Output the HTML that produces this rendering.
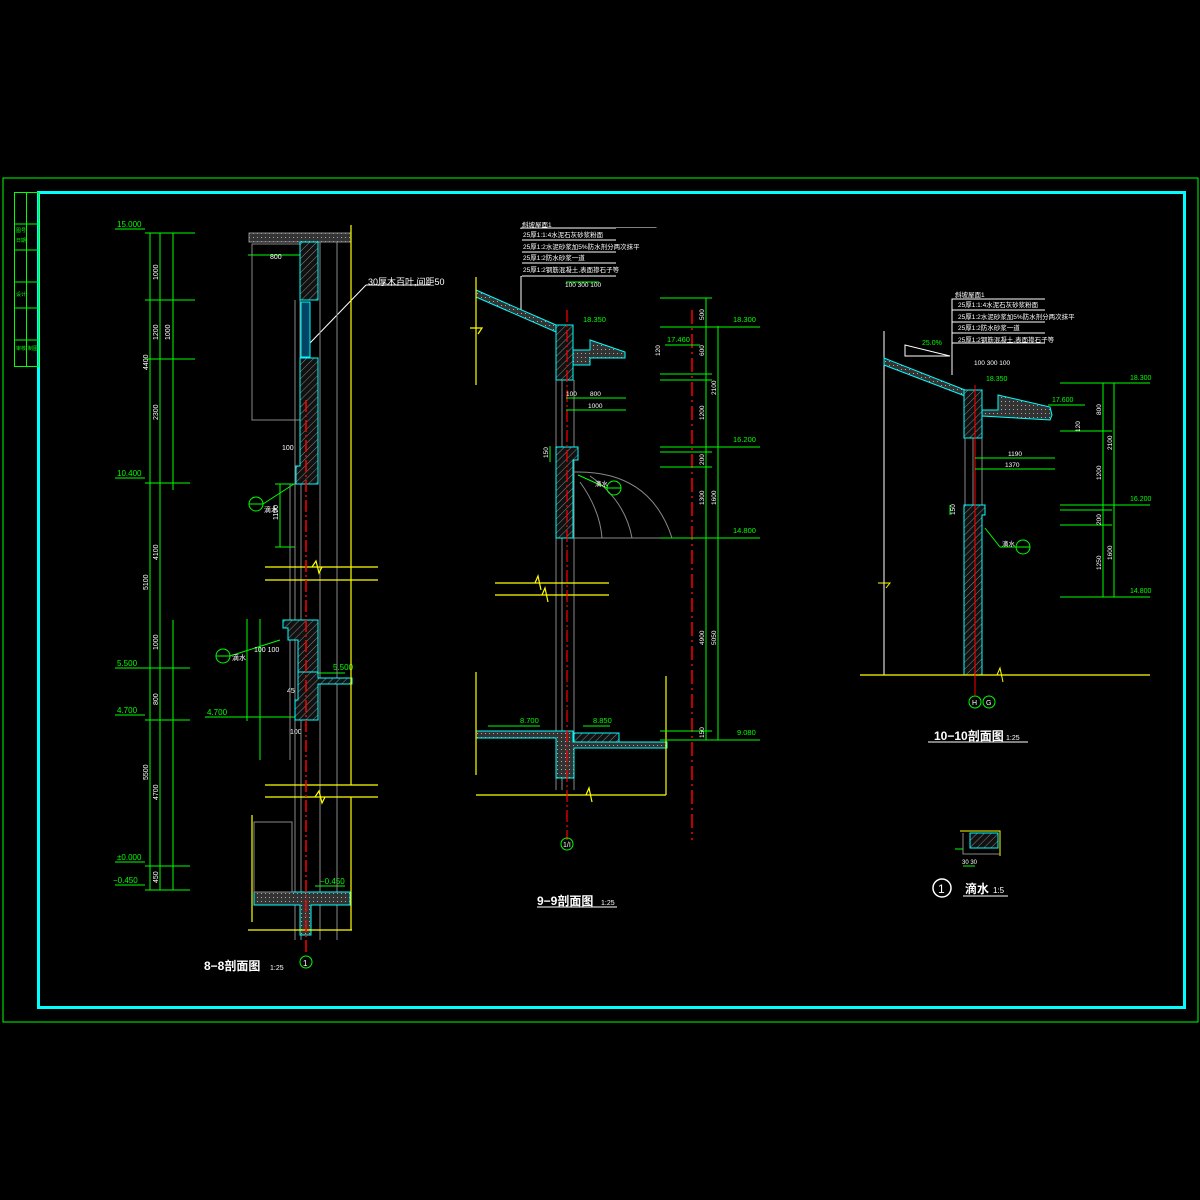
<!DOCTYPE html>
<html><head><meta charset="utf-8"><style>
html,body{margin:0;padding:0;background:#000;}
svg{display:block}
text{font-family:"Liberation Sans","Noto Sans CJK SC",sans-serif;}
</style></head><body>
<svg width="1200" height="1200" viewBox="0 0 1200 1200" xmlns="http://www.w3.org/2000/svg">
<defs>
<pattern id="h" width="5" height="5" patternUnits="userSpaceOnUse" patternTransform="rotate(45)">
<rect width="5" height="5" fill="#111"/><line x1="0" y1="0" x2="0" y2="5" stroke="#888" stroke-width="1"/></pattern>
<pattern id="c" width="4" height="4" patternUnits="userSpaceOnUse">
<rect width="4" height="4" fill="#333"/><rect x="1" y="1" width="1" height="1" fill="#aaa"/></pattern>
</defs>
<rect width="1200" height="1200" fill="#000"/>
<!-- frames -->
<rect x="3" y="178" width="1195" height="844" fill="none" stroke="#0f0" stroke-width="1"/>
<rect x="38.5" y="192.5" width="1146" height="815" fill="none" stroke="#0ff" stroke-width="3"/>
<g stroke="#0f0" stroke-width="1" fill="none">
<rect x="14.5" y="192.5" width="24" height="174"/>
<line x1="26.5" y1="192" x2="26.5" y2="366"/>
<line x1="14" y1="224" x2="38" y2="224"/><line x1="14" y1="250" x2="38" y2="250"/>
<line x1="14" y1="282" x2="38" y2="282"/><line x1="14" y1="308" x2="38" y2="308"/>
<line x1="14" y1="340" x2="38" y2="340"/>
</g>
<g fill="#0f0" font-size="5"><text x="16" y="232">图号</text><text x="16" y="242">日期</text><text x="16" y="296">设计</text><text x="16" y="350">审核</text><text x="28" y="350">制图</text></g>

<!-- ===== 8-8 ===== -->
<g stroke="#0f0" stroke-width="1" fill="none">
<line x1="150" y1="233" x2="150" y2="890"/><line x1="160" y1="233" x2="160" y2="890"/>
<line x1="173" y1="233" x2="173" y2="490"/>
<line x1="173" y1="620" x2="173" y2="890"/>
<line x1="115" y1="229" x2="145" y2="229"/><line x1="115" y1="478" x2="145" y2="478"/>
<line x1="115" y1="668" x2="145" y2="668"/><line x1="115" y1="715" x2="145" y2="715"/>
<line x1="115" y1="862" x2="145" y2="862"/><line x1="115" y1="885" x2="145" y2="885"/>
<line x1="145" y1="233" x2="195" y2="233"/><line x1="145" y1="300" x2="195" y2="300"/>
<line x1="145" y1="359" x2="195" y2="359"/><line x1="145" y1="483" x2="190" y2="483"/>
<line x1="145" y1="668" x2="190" y2="668"/><line x1="145" y1="720" x2="190" y2="720"/>
<line x1="145" y1="866" x2="190" y2="866"/><line x1="145" y1="890" x2="190" y2="890"/>
<line x1="280" y1="484" x2="280" y2="547"/><line x1="275" y1="484" x2="295" y2="484"/><line x1="275" y1="547" x2="295" y2="547"/>
<line x1="248" y1="255" x2="300" y2="255"/>
<line x1="247" y1="619" x2="247" y2="721"/><line x1="260" y1="619" x2="260" y2="760"/>
<line x1="205" y1="717" x2="300" y2="717"/>
<line x1="318" y1="673" x2="345" y2="673"/>
<line x1="315" y1="886" x2="345" y2="886"/>
<circle cx="256" cy="504" r="7"/><line x1="249" y1="504" x2="263" y2="504"/>
<circle cx="223" cy="656" r="7"/><line x1="216" y1="656" x2="230" y2="656"/>
<line x1="263" y1="504" x2="294" y2="484"/><line x1="230" y1="656" x2="280" y2="640"/>
</g>
<g fill="#0f0" font-size="8"><text x="117" y="227">15.000</text><text x="117" y="476">10.400</text><text x="117" y="666">5.500</text><text x="117" y="713">4.700</text><text x="117" y="860">±0.000</text><text x="113" y="883">−0.450</text><text x="207" y="715">4.700</text><text x="333" y="670">5.500</text><text x="320" y="884">−0.450</text></g>
<g fill="#fff" font-size="7">
<text transform="translate(148,370) rotate(-90)">4400</text><text transform="translate(158,280) rotate(-90)">1000</text>
<text transform="translate(158,340) rotate(-90)">1200</text><text transform="translate(158,420) rotate(-90)">2300</text>
<text transform="translate(148,590) rotate(-90)">5100</text><text transform="translate(158,560) rotate(-90)">4100</text>
<text transform="translate(158,650) rotate(-90)">1000</text><text transform="translate(158,705) rotate(-90)">800</text>
<text transform="translate(148,780) rotate(-90)">5500</text><text transform="translate(158,800) rotate(-90)">4700</text>
<text transform="translate(158,883) rotate(-90)">450</text><text transform="translate(170,340) rotate(-90)">1000</text>
<text x="270" y="259">800</text><text x="282" y="450">100</text><text transform="translate(278,520) rotate(-90)">1100</text>
<text x="264" y="512">滴水</text><text x="232" y="660">滴水</text><text x="254" y="652">100 100</text>
<text x="287" y="693">45</text><text x="290" y="734">100</text>
</g>
<text x="368" y="285" fill="#fff" font-size="9">30厚木百叶,间距50</text>
<line x1="310" y1="343" x2="366" y2="285" stroke="#fff" stroke-width="1"/><line x1="366" y1="285" x2="430" y2="285" stroke="#fff"/>
<!-- structure 8-8 -->
<g stroke="#888" stroke-width="1" fill="none">
<rect x="249" y="233" width="102" height="9" fill="url(#c)"/>
<rect x="252" y="244" width="48" height="176"/>
<line x1="320" y1="242" x2="320" y2="940"/><line x1="337" y1="242" x2="337" y2="940"/>
<line x1="295" y1="300" x2="295" y2="940"/><line x1="290" y1="484" x2="290" y2="760"/>
<line x1="301" y1="484" x2="301" y2="940"/>
</g>
<path d="M300 242 L318 242 L318 300 L300 300 Z" fill="url(#h)" stroke="#0ff"/>
<rect x="301" y="302" width="9" height="55" fill="#046" stroke="#0ff"/>
<path d="M300 358 L318 358 L318 484 L296 484 L296 466 L300 466 Z" fill="url(#h)" stroke="#0ff"/>
<path d="M283 620 L318 620 L318 672 L298 672 L298 640 L288 640 L288 628 L283 628 Z" fill="url(#h)" stroke="#0ff"/>
<path d="M298 672 L318 672 L318 678 L352 678 L352 684 L318 684 L318 720 L295 720 L295 700 L298 700 Z" fill="url(#h)" stroke="#0ff"/>
<path d="M254 892 L350 892 L350 905 L311 905 L311 935 L300 935 L300 905 L254 905 Z" fill="url(#c)" stroke="#0ff"/>
<g stroke="#888" fill="none"><rect x="254" y="822" width="38" height="70"/></g>
<g stroke="#ff0" stroke-width="1.2" fill="none">
<line x1="351" y1="225" x2="351" y2="785"/><line x1="351" y1="797" x2="351" y2="930"/>
<line x1="265" y1="567" x2="378" y2="567"/><line x1="265" y1="580" x2="378" y2="580"/>
<line x1="265" y1="785" x2="378" y2="785"/><line x1="265" y1="797" x2="378" y2="797"/>
<line x1="252" y1="815" x2="252" y2="922"/><line x1="248" y1="930" x2="352" y2="930"/>
<path d="M312 567 l4 -6 l3 12 l3 -6"/><path d="M315 797 l4 -6 l3 12 l3 -6"/>
</g>
<line x1="306" y1="400" x2="306" y2="955" stroke="#f00" stroke-width="1.5" stroke-dasharray="12,3,2,3"/>
<circle cx="306" cy="962" r="6" fill="none" stroke="#0f0"/><text x="303" y="966" fill="#fff" font-size="8">1</text>
<text x="204" y="970" fill="#fff" font-size="12" font-weight="bold">8−8剖面图</text><text x="270" y="970" fill="#fff" font-size="7">1:25</text>

<!-- ===== 9-9 ===== -->
<g stroke="#fff" stroke-width="1" fill="none">
<rect x="521" y="228" width="135" height="48"/>
<line x1="521" y1="240" x2="616" y2="240"/><line x1="521" y1="252" x2="616" y2="252"/><line x1="521" y1="263" x2="616" y2="263"/>
<line x1="521" y1="276" x2="521" y2="310"/>
</g>
<rect x="520" y="229" width="2" height="47" fill="#000"/><rect x="616" y="228" width="45" height="49" fill="#000"/>
<g fill="#fff" font-size="6.5"><text x="522" y="227">斜坡屋面1</text><text x="523" y="237">25厚1:1:4水泥石灰砂浆粉面</text><text x="523" y="249">25厚1:2水泥砂浆加5%防水剂分两次抹平</text><text x="523" y="260">25厚1:2防水砂浆一道</text><text x="523" y="272">25厚1:2钢筋混凝土,表面掺石子等</text></g>
<path d="M476 290 L556 325 L556 332 L476 297 Z" fill="url(#c)" stroke="#0ff"/>
<path d="M556 325 L573 325 L573 380 L556 380 Z" fill="url(#h)" stroke="#0ff"/>
<path d="M573 350 L590 350 L590 340 L625 352 L625 358 L600 358 L590 358 L590 365 L573 365 Z" fill="url(#c)" stroke="#0ff"/>
<g stroke="#888" fill="none">
<line x1="556" y1="380" x2="556" y2="790"/><line x1="562" y1="380" x2="562" y2="790"/><line x1="574" y1="380" x2="574" y2="790"/>
<line x1="574" y1="538" x2="700" y2="538"/>
<path d="M574 472 Q650 470 672 538"/><path d="M590 476 Q625 500 632 538"/><path d="M580 482 Q600 510 602 538"/>
</g>
<path d="M556 447 L578 447 L578 460 L573 460 L573 538 L556 538 Z" fill="url(#h)" stroke="#0ff"/>
<path d="M476 731 L573 731 L573 742 L667 742 L667 748 L574 748 L574 778 L556 778 L556 738 L476 738 Z" fill="url(#c)" stroke="#0ff"/>
<path d="M574 733 L619 733 L619 742 L574 742 Z" fill="url(#h)" stroke="#0ff"/>
<g stroke="#ff0" stroke-width="1.2" fill="none">
<line x1="476" y1="277" x2="476" y2="385"/><path d="M470 328 l12 0 l-4 6"/>
<line x1="495" y1="583" x2="609" y2="583"/><line x1="495" y1="595" x2="609" y2="595"/>
<path d="M535 583 l3 -7 l3 14"/><path d="M542 595 l3 -7 l3 14"/>
<line x1="476" y1="672" x2="476" y2="775"/><line x1="666" y1="676" x2="666" y2="795"/>
<line x1="476" y1="795" x2="666" y2="795"/><path d="M586 795 l3 -7 l3 14"/>
</g>
<line x1="567" y1="310" x2="567" y2="840" stroke="#f00" stroke-width="1.2" stroke-dasharray="12,3,2,3"/>
<line x1="692" y1="310" x2="692" y2="840" stroke="#f00" stroke-width="1.5" stroke-dasharray="14,4,2,4"/>
<g stroke="#0f0" fill="none">
<line x1="706" y1="298" x2="706" y2="740"/><line x1="718" y1="326" x2="718" y2="740"/>
<line x1="660" y1="298" x2="712" y2="298"/><line x1="660" y1="327" x2="760" y2="327"/>
<line x1="660" y1="374" x2="712" y2="374"/><line x1="660" y1="380" x2="712" y2="380"/>
<line x1="660" y1="447" x2="760" y2="447"/><line x1="660" y1="452" x2="712" y2="452"/>
<line x1="660" y1="467" x2="712" y2="467"/><line x1="660" y1="538" x2="760" y2="538"/>
<line x1="660" y1="740" x2="760" y2="740"/><line x1="660" y1="731" x2="712" y2="731"/>
<line x1="665" y1="345" x2="700" y2="345"/>
<line x1="566" y1="398" x2="626" y2="398"/><line x1="566" y1="410" x2="626" y2="410"/>
<line x1="566" y1="282" x2="599" y2="282"/>
<circle cx="614" cy="488" r="7"/><line x1="607" y1="488" x2="621" y2="488"/><line x1="578" y1="475" x2="607" y2="488"/>
<line x1="488" y1="726" x2="540" y2="726"/><line x1="583" y1="726" x2="610" y2="726"/>
<line x1="550" y1="446" x2="550" y2="462"/>
</g>
<g fill="#0f0" font-size="7.5"><text x="733" y="322">18.300</text><text x="733" y="442">16.200</text><text x="733" y="533">14.800</text><text x="737" y="735">9.080</text><text x="667" y="342">17.460</text><text x="583" y="322">18.350</text><text x="520" y="723">8.700</text><text x="593" y="723">8.850</text></g>
<g fill="#fff" font-size="6.5">
<text transform="translate(704,320) rotate(-90)">500</text><text transform="translate(704,356) rotate(-90)">600</text>
<text transform="translate(716,395) rotate(-90)">2100</text><text transform="translate(704,420) rotate(-90)">1200</text>
<text transform="translate(716,505) rotate(-90)">1600</text><text transform="translate(704,505) rotate(-90)">1300</text>
<text transform="translate(704,645) rotate(-90)">4900</text><text transform="translate(716,645) rotate(-90)">5050</text>
<text transform="translate(704,465) rotate(-90)">200</text><text transform="translate(704,738) rotate(-90)">150</text>
<text transform="translate(660,356) rotate(-90)">120</text><text transform="translate(548,458) rotate(-90)">150</text>
<text x="565" y="287">100 300 100</text><text x="590" y="396">800</text><text x="588" y="408">1000</text><text x="566" y="396">100</text>
<text x="595" y="486">滴水</text>
</g>
<circle cx="567" cy="844" r="6" fill="none" stroke="#0f0"/><text x="563" y="847" fill="#fff" font-size="7">1/I</text>
<text x="537" y="905" fill="#fff" font-size="12" font-weight="bold">9−9剖面图</text><text x="601" y="905" fill="#fff" font-size="7">1:25</text>
<line x1="537" y1="907" x2="617" y2="907" stroke="#fff"/>

<!-- ===== 10-10 ===== -->
<g stroke="#fff" stroke-width="1" fill="none">
<rect x="952" y="299" width="100" height="44"/>
<line x1="952" y1="310" x2="1045" y2="310"/><line x1="952" y1="322" x2="1045" y2="322"/><line x1="952" y1="333" x2="1045" y2="333"/>
<line x1="952" y1="343" x2="952" y2="375"/>
<line x1="884" y1="331" x2="884" y2="675"/>
<path d="M905 345 L905 356 L950 356 Z"/>
</g>
<rect x="1045" y="298" width="20" height="46" fill="#000"/>
<g fill="#fff" font-size="6.5"><text x="955" y="297">斜坡屋面1</text><text x="958" y="307">25厚1:1:4水泥石灰砂浆粉面</text><text x="958" y="319">25厚1:2水泥砂浆加5%防水剂分两次抹平</text><text x="958" y="330">25厚1:2防水砂浆一道</text><text x="958" y="342">25厚1:2钢筋混凝土,表面掺石子等</text></g>
<text x="922" y="345" fill="#0f0" font-size="7">25.0%</text>
<path d="M884 358 L965 390 L965 396 L884 365 Z" fill="url(#c)" stroke="#0ff"/>
<path d="M964 390 L982 390 L982 438 L964 438 Z" fill="url(#h)" stroke="#0ff"/>
<path d="M982 410 L998 410 L998 395 L1050 407 L1052 415 L1050 420 L982 416 Z" fill="url(#c)" stroke="#0ff"/>
<g stroke="#888" fill="none"><line x1="965" y1="438" x2="965" y2="505"/><line x1="973" y1="438" x2="973" y2="505"/><line x1="982" y1="438" x2="982" y2="505"/></g>
<path d="M964 505 L985 505 L985 515 L982 515 L982 675 L964 675 Z" fill="url(#h)" stroke="#0ff"/>
<line x1="860" y1="675" x2="1150" y2="675" stroke="#ff0" stroke-width="1.2"/>
<path d="M997 675 l3 -7 l3 14" stroke="#ff0" fill="none"/><path d="M878 583 l12 0 l-4 5" stroke="#ff0" fill="none"/>
<line x1="975" y1="385" x2="975" y2="695" stroke="#f00" stroke-width="1"/>
<circle cx="975" cy="702" r="6" fill="none" stroke="#0f0"/><circle cx="989" cy="702" r="6" fill="none" stroke="#0f0"/>
<text x="972" y="705" fill="#fff" font-size="7">H</text><text x="986" y="705" fill="#fff" font-size="7">G</text>
<g stroke="#0f0" fill="none">
<line x1="1103" y1="383" x2="1103" y2="597"/><line x1="1114" y1="383" x2="1114" y2="597"/>
<line x1="1060" y1="383" x2="1150" y2="383"/><line x1="1060" y1="431" x2="1112" y2="431"/>
<line x1="1060" y1="505" x2="1150" y2="505"/><line x1="1060" y1="510" x2="1112" y2="510"/>
<line x1="1060" y1="525" x2="1112" y2="525"/><line x1="1060" y1="597" x2="1150" y2="597"/>
<line x1="975" y1="458" x2="1055" y2="458"/><line x1="975" y1="469" x2="1055" y2="469"/>
<line x1="1048" y1="405" x2="1085" y2="405"/>
<circle cx="1023" cy="547" r="7"/><line x1="1016" y1="547" x2="1030" y2="547"/><line x1="985" y1="528" x2="1000" y2="547"/><line x1="1000" y1="547" x2="1016" y2="547"/>
<line x1="950" y1="505" x2="950" y2="515"/>
</g>
<g fill="#0f0" font-size="7"><text x="1130" y="380">18.300</text><text x="1130" y="501">16.200</text><text x="1130" y="593">14.800</text><text x="1052" y="402">17.600</text><text x="986" y="381">18.350</text></g>
<g fill="#fff" font-size="6.5">
<text transform="translate(1101,415) rotate(-90)">800</text><text transform="translate(1112,450) rotate(-90)">2100</text>
<text transform="translate(1101,480) rotate(-90)">1200</text><text transform="translate(1112,560) rotate(-90)">1600</text>
<text transform="translate(1101,570) rotate(-90)">1250</text><text transform="translate(1101,525) rotate(-90)">200</text>
<text transform="translate(1080,432) rotate(-90)">120</text><text transform="translate(955,515) rotate(-90)">150</text>
<text x="974" y="365">100 300 100</text><text x="1008" y="456">1190</text><text x="1005" y="467">1370</text><text x="1002" y="546">滴水</text>
</g>
<text x="934" y="740" fill="#fff" font-size="12" font-weight="bold">10−10剖面图</text><text x="1006" y="740" fill="#fff" font-size="7">1:25</text>
<line x1="928" y1="742" x2="1028" y2="742" stroke="#fff"/>
<!-- detail 1 -->
<g fill="none"><path d="M960 831 L1000 831 L1000 856" stroke="#ff0"/>
<path d="M970 833 L998 833 L998 848 L970 848 Z" fill="url(#h)" stroke="#0ff"/>
<path d="M963 833 L963 854 L1000 854" stroke="#888"/>
<line x1="963" y1="866" x2="975" y2="866" stroke="#0f0"/><line x1="955" y1="849" x2="963" y2="849" stroke="#0f0"/></g>
<text x="962" y="864" fill="#fff" font-size="6">30 30</text>
<circle cx="942" cy="888" r="9" fill="none" stroke="#fff" stroke-width="1.5"/><text x="938" y="893" fill="#fff" font-size="12">1</text>
<text x="965" y="893" fill="#fff" font-size="12" font-weight="bold">滴水</text><text x="993" y="893" fill="#fff" font-size="8">1:5</text>
<line x1="963" y1="896" x2="1008" y2="896" stroke="#fff"/>
</svg>
</body></html>
